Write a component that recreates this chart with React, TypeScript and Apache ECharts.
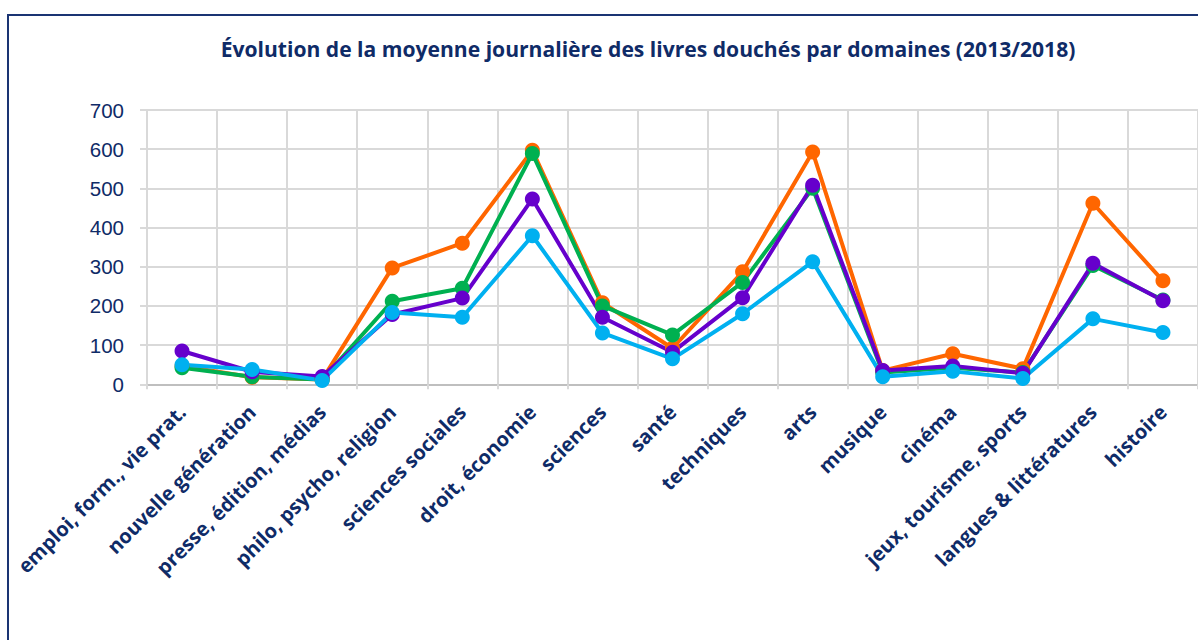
import React, { useEffect, useRef } from "react";
import * as echarts from "echarts";

const categories = [
  "emploi, form., vie prat.",
  "nouvelle génération",
  "presse, édition, médias",
  "philo, psycho, religion",
  "sciences sociales",
  "droit, économie",
  "sciences",
  "santé",
  "techniques",
  "arts",
  "musique",
  "cinéma",
  "jeux, tourisme, sports",
  "langues & littératures",
  "histoire",
];

const seriesOrange = [47, 18, 12, 297, 360, 597, 208, 92, 287, 593, 35, 78, 40, 462, 264];
const seriesGreen = [42, 19, 12, 212, 245, 589, 200, 126, 260, 500, 30, 42, 30, 303, 215];
const seriesPurple = [85, 32, 20, 178, 220, 473, 171, 82, 221, 508, 35, 47, 28, 309, 213];
const seriesCyan = [50, 38, 10, 183, 171, 379, 131, 65, 180, 313, 19, 33, 15, 167, 132];

const yTicks = { min: 0, max: 700, interval: 100 };

const titleText = "Évolution de la moyenne journalière des livres douchés par domaines (2013/2018)";

const NAVY = "#0f2b67";
const GRID = "#d9d9d9";

export default function App() {
  const ref = useRef<HTMLDivElement>(null);
  useEffect(() => {
    document.body.style.margin = "0";
    const chart = echarts.init(ref.current!, null, { renderer: "svg" });
    const mk = (name: string, data: number[], color: string) => ({
      name,
      type: "line",
      data,
      symbol: "circle",
      symbolSize: 15,
      lineStyle: { color, width: 4 },
      itemStyle: { color },
    });
    chart.setOption({
      animation: false,
      backgroundColor: "#ffffff",
      title: {
        text: titleText,
        left: 643,
        textAlign: "center",
        top: 33,
        textStyle: { fontFamily: "Open Sans", fontWeight: "bold", fontSize: 21.1, color: NAVY },
      },
      graphic: [
        {
          type: "rect",
          shape: { x: 8, y: 15, width: 1300, height: 700 },
          style: { fill: "none", stroke: "#1a3473", lineWidth: 2 },
          silent: true,
        },
      ],
      grid: { left: 147, top: 110, width: 1053, height: 274.3, containLabel: false },
      xAxis: {
        type: "category",
        data: categories,
        boundaryGap: true,
        axisLine: { show: true, lineStyle: { color: "#bfbfbf", width: 2 } },
        axisTick: { show: true, length: 5, lineStyle: { color: GRID, width: 2 } },
        splitLine: { show: true, lineStyle: { color: GRID, width: 2 } },
        axisLabel: {
          interval: 0,
          rotate: 45,
          margin: 24,
          fontFamily: "Open Sans",
          fontWeight: "bold",
          fontSize: 20,
          color: NAVY,
        },
      },
      yAxis: {
        type: "value",
        min: yTicks.min,
        max: yTicks.max,
        interval: yTicks.interval,
        axisLine: { show: true, lineStyle: { color: GRID, width: 2 } },
        axisTick: { show: true, length: 7, lineStyle: { color: GRID, width: 2 } },
        splitLine: { show: true, lineStyle: { color: GRID, width: 2 } },
        axisLabel: {
          margin: 23,
          fontFamily: "Liberation Sans",
          fontSize: 20.5,
          color: NAVY,
        },
      },
      series: [
        mk("série 1", seriesOrange, "#ff6600"),
        mk("série 2", seriesGreen, "#00b050"),
        mk("série 3", seriesPurple, "#6600cc"),
        mk("série 4", seriesCyan, "#00b0f0"),
      ],
    });
    return () => chart.dispose();
  }, []);
  return <div ref={ref} style={{ width: 1198, height: 640 }} />;
}
